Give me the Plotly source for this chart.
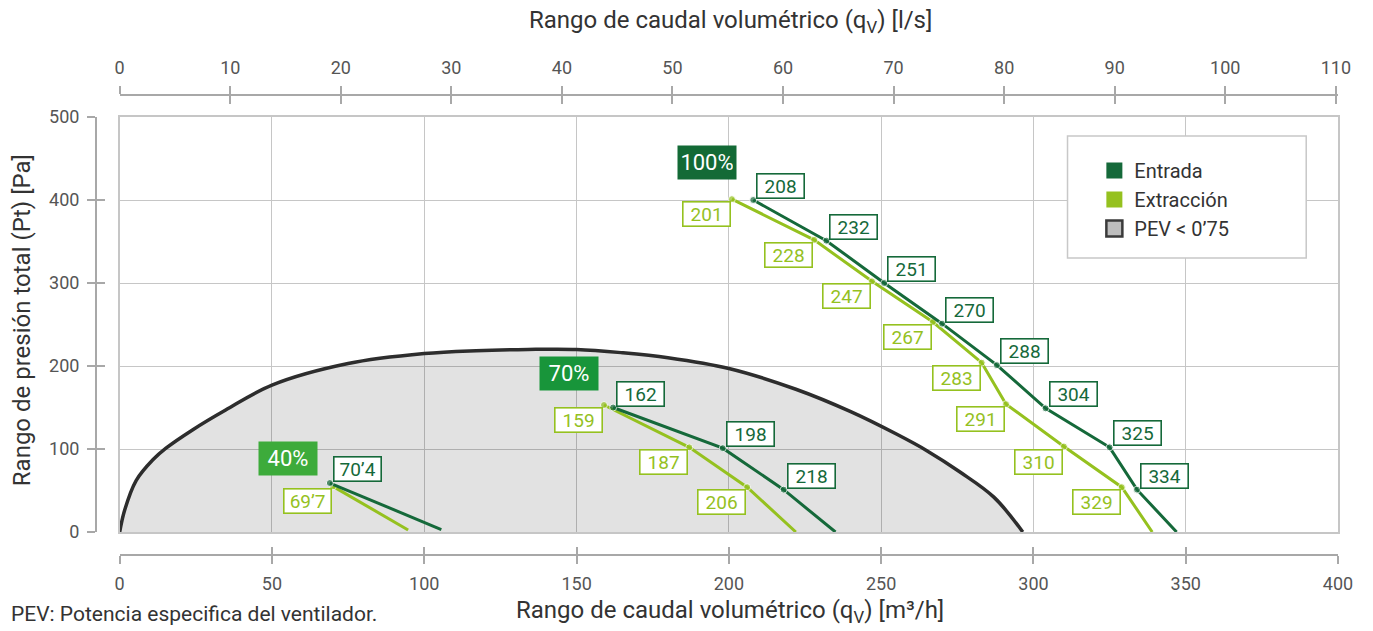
import plotly.graph_objects as go

# ---------------- data ----------------
pev_q = [0, 1.6, 5.4, 10.9, 15.2, 23.9, 34.8, 50, 75, 100, 117, 134, 150, 165, 180, 200, 222, 240, 255, 265, 276, 287, 296.5]
pev_p = [0, 26, 62, 87, 101, 123, 147, 177, 203, 215, 218.5, 220, 220, 216, 210, 197, 172, 145, 118, 98, 72, 42, 0]

ent100_q = [208, 232, 251, 270, 288, 304, 325, 334, 347]
ent100_p = [400, 351, 300, 251, 201, 149, 102, 51, 0]
ent100_lbl = ["208", "232", "251", "270", "288", "304", "325", "334"]

ext100_q = [201, 228, 247, 267, 283, 291, 310, 329, 339]
ext100_p = [401, 352, 302, 253, 204, 154, 103, 54, 0]
ext100_lbl = ["201", "228", "247", "267", "283", "291", "310", "329"]

ent70_q = [162, 198, 218, 235]
ent70_p = [150, 101, 51, 0]
ent70_lbl = ["162", "198", "218"]

ext70_q = [159, 187, 206, 222]
ext70_p = [153, 102, 54, 0]
ext70_lbl = ["159", "187", "206"]

ent40_q = [69, 105.6]
ent40_p = [59, 3]
ent40_lbl = ["70’4"]

ext40_q = [70, 94.7]
ext40_p = [55, 2.5]
ext40_lbl = ["69’7"]

speed_lbl = ["40%", "70%", "100%"]

x_ticks_m3h = list(range(0, 401, 50))
x_ticks_ls = list(range(0, 111, 10))
y_ticks = list(range(0, 501, 100))

# ---------------- style ----------------
W, H = 1373, 631
ML, MR, MT, MB = 60, 20, 60, 60
PW, PH = W - ML - MR, H - MT - MB
def px(xp): return (xp - ML) / PW
def py(yp): return (H - MB - yp) / PH

FONT = "Roboto"
C_ENT = "#15693a"
C_EXT = "#95c11f"
C_PEV = "#2d2d2d"
C_GRID = "#c6c6c6"
C_AX = "#a8a8a8"
C_TXT = "#333333"
C_TICK = "#555555"
SPEED_COL = ["#3dab3b", "#18953a", "#136a36"]
SPEED_SHIFT = [(-42, 25), (-44, 34), (-46, 38)]

fig = go.Figure()

fig.add_trace(go.Scatter(x=pev_q, y=pev_p, mode="lines", line=dict(color=C_PEV, width=3.5, shape="spline", smoothing=1.0),
                         fill="tozeroy", fillcolor="rgba(0,0,0,0.115)", showlegend=False, hoverinfo="skip"))

groups = [
    (ent40_q, ent40_p, ent40_lbl, ext40_q, ext40_p, ext40_lbl),
    (ent70_q, ent70_p, ent70_lbl, ext70_q, ext70_p, ext70_lbl),
    (ent100_q, ent100_p, ent100_lbl, ext100_q, ext100_p, ext100_lbl),
]

annotations = []
for gi, (eq, ep, el, xq, xp, xl) in enumerate(groups):
    for q, p, lbls, col, is_ent in ((xq, xp, xl, C_EXT, False), (eq, ep, el, C_ENT, True)):
        sizes = [7] * len(lbls) + [0] * (len(q) - len(lbls))
        fig.add_trace(go.Scatter(x=q, y=p, mode="lines+markers", line=dict(color=col, width=3),
                                 marker=dict(color=col, size=sizes), showlegend=False, hoverinfo="skip"))
        for i, t in enumerate(lbls):
            annotations.append(dict(
                x=q[i], y=p[i], xref="x", yref="y", text=t, showarrow=False,
                xanchor="left" if is_ent else "right", yanchor="bottom" if is_ent else "top",
                xshift=3 if is_ent else -1, yshift=1 if is_ent else -2,
                font=dict(family=FONT, size=19, color=col),
                bgcolor="white", bordercolor=col, borderwidth=1.6, borderpad=1,
                width=44, height=21, align="center", valign="middle"))
    sx, sy = SPEED_SHIFT[gi]
    annotations.append(dict(
        x=eq[0], y=ep[0], xref="x", yref="y", text=speed_lbl[gi], showarrow=False,
        xanchor="center", yanchor="middle", xshift=sx, yshift=sy,
        font=dict(family=FONT, size=22, color="white"),
        bgcolor=SPEED_COL[gi], borderpad=3, width=52, height=27, align="center", valign="middle"))

# legend entries
fig.add_trace(go.Scatter(x=[None], y=[None], mode="markers", name="Entrada",
                         marker=dict(symbol="square", size=22, color=C_ENT)))
fig.add_trace(go.Scatter(x=[None], y=[None], mode="markers", name="Extracción",
                         marker=dict(symbol="square", size=22, color=C_EXT)))
fig.add_trace(go.Scatter(x=[None], y=[None], mode="markers", name="PEV < 0’75",
                         marker=dict(symbol="square", size=20, color="#bdbdbd", line=dict(color="#3a3a3a", width=2.5))))

# dummy traces to materialise the extra axes
for xa, ya in (("x2", "y"), ("x3", "y"), ("x4", "y"), ("x5", "y"), ("x", "y2"), ("x", "y3")):
    fig.add_trace(go.Scatter(x=[None], y=[None], xaxis=xa, yaxis=ya, showlegend=False, hoverinfo="skip"))

dx = [px(120), px(1345)]
dy = [py(532), py(117)]
tickfont = dict(family=FONT, size=18, color=C_TICK)

common_x = dict(domain=dx, range=[0, 400], tickvals=x_ticks_m3h, showgrid=False, zeroline=False)
common_top = dict(domain=dx, range=[0, 110.2], tickvals=x_ticks_ls, showgrid=False, zeroline=False)
common_y = dict(domain=dy, range=[0, 500], tickvals=y_ticks, showgrid=False, zeroline=False)

fig.update_layout(
    width=W, height=H, autosize=False, margin=dict(l=ML, r=MR, t=MT, b=MB),
    paper_bgcolor="white", plot_bgcolor="white",
    font=dict(family=FONT, color=C_TXT),
    xaxis=dict(domain=dx, range=[0, 400], dtick=50, tick0=0, showgrid=True, gridcolor=C_GRID, gridwidth=1.3,
               showline=True, linecolor=C_GRID, linewidth=1.6, mirror=True, zeroline=False,
               showticklabels=False, ticks=""),
    yaxis=dict(domain=dy, range=[0, 500], dtick=100, tick0=0, showgrid=True, gridcolor=C_GRID, gridwidth=1.3,
               showline=True, linecolor=C_GRID, linewidth=1.6, mirror=True, zeroline=False,
               showticklabels=False, ticks=""),
    xaxis2=dict(**common_x, overlaying="x", anchor="free", position=py(555), side="bottom",
                showline=True, linecolor=C_AX, linewidth=1.5, ticks="outside", ticklen=8, tickwidth=1.5,
                tickcolor=C_AX, tickfont=tickfont, ticklabelstandoff=5),
    xaxis3=dict(**common_x, overlaying="x", anchor="free", position=py(555), side="bottom",
                showline=False, ticks="inside", ticklen=8, tickwidth=1.5, tickcolor=C_AX, showticklabels=False),
    xaxis4=dict(**common_top, overlaying="x", anchor="free", position=py(95), side="top",
                showline=True, linecolor=C_AX, linewidth=1.5, ticks="outside", ticklen=8, tickwidth=1.5,
                tickcolor=C_AX, tickfont=tickfont, ticklabelstandoff=5),
    xaxis5=dict(**common_top, overlaying="x", anchor="free", position=py(95), side="top",
                showline=False, ticks="inside", ticklen=8, tickwidth=1.5, tickcolor=C_AX, showticklabels=False),
    yaxis2=dict(**common_y, overlaying="y", anchor="free", position=px(96), side="left",
                showline=True, linecolor=C_AX, linewidth=1.5, ticks="outside", ticklen=8, tickwidth=1.5,
                tickcolor=C_AX, tickfont=tickfont, ticklabelstandoff=4),
    yaxis3=dict(**common_y, overlaying="y", anchor="free", position=px(96), side="left",
                showline=False, ticks="inside", ticklen=8, tickwidth=1.5, tickcolor=C_AX, showticklabels=False),
    legend=dict(x=px(1100), y=py(151), xanchor="left", yanchor="top", bgcolor="rgba(0,0,0,0)",
                borderwidth=0, font=dict(family=FONT, size=20, color=C_TXT), itemsizing="trace",
                tracegroupgap=0),
    shapes=[dict(type="rect", xref="paper", yref="paper", x0=px(1073), x1=px(1313), y0=py(258), y1=py(136),
                 fillcolor="white", line=dict(color="#c8c8c8", width=1.5), layer="above")],
    annotations=annotations + [
        dict(xref="paper", yref="paper", x=px(734), y=py(22), text="Rango de caudal volumétrico (q<sub>V</sub>) [l/s]",
             showarrow=False, xanchor="center", yanchor="middle", font=dict(family=FONT, size=24, color=C_TXT)),
        dict(xref="paper", yref="paper", x=px(734), y=py(611), text="Rango de caudal volumétrico (q<sub>V</sub>) [m³/h]",
             showarrow=False, xanchor="center", yanchor="middle", font=dict(family=FONT, size=24, color=C_TXT)),
        dict(xref="paper", yref="paper", x=px(22), y=py(320), text="Rango de presión total (Pt) [Pa]", textangle=-90,
             showarrow=False, xanchor="center", yanchor="middle", font=dict(family=FONT, size=24, color=C_TXT)),
        dict(xref="paper", yref="paper", x=px(9), y=py(614), text="PEV: Potencia especifica del ventilador.",
             showarrow=False, xanchor="left", yanchor="middle", font=dict(family=FONT, size=21, color=C_TXT)),
    ],
)

fig.write_html(
    "out.html",
    config={"displayModeBar": False},
    post_script=(
        "document.body.style.margin='0';document.body.style.padding='0';"
        "document.body.style.overflow='hidden';"
    ),
)
